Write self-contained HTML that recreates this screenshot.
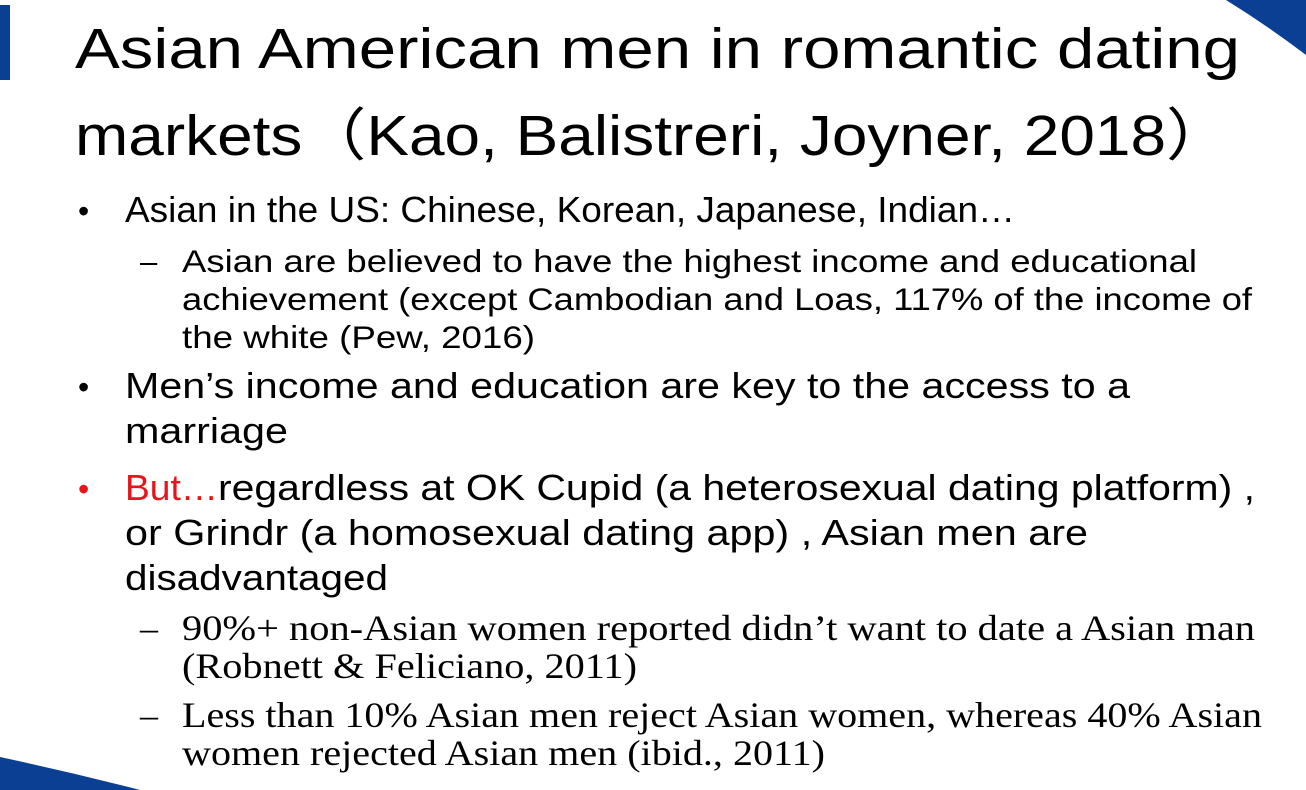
<!DOCTYPE html>
<html><head><meta charset="utf-8"><style>
html,body{margin:0;padding:0;background:#fff;width:1306px;height:790px;overflow:hidden}
svg{display:block}
.s{font-family:"Liberation Sans","Noto Sans CJK SC",sans-serif;fill:#000}
.r{font-family:"Liberation Serif",serif;fill:#000}
</style></head><body>
<svg width="1306" height="790" viewBox="0 0 1306 790">
<rect x="0" y="5" width="10" height="75" fill="#0a3f94"/>
<path d="M1226,0 Q1268,26 1306,55 L1306,0 Z" fill="#0a3f94"/>
<path d="M0,757 Q70,772 140,790 L0,790 Z" fill="#0a3f94"/>
<g>
<text class="s" x="75" y="68" font-size="57" textLength="1165" lengthAdjust="spacingAndGlyphs">Asian American men in romantic dating</text>
<text class="s" x="75" y="155" font-size="57" textLength="1155" lengthAdjust="spacingAndGlyphs">markets（Kao, Balistreri, Joyner, 2018）</text>
</g>
<g>
<text class="s" x="78" y="222" font-size="32">•</text>
<text class="s" x="125" y="222" font-size="36" textLength="890" lengthAdjust="spacingAndGlyphs">Asian in the US: Chinese, Korean, Japanese, Indian…</text>
<text class="s" x="140" y="272" font-size="31">–</text>
<text class="s" x="182" y="272" font-size="31.5" textLength="1015" lengthAdjust="spacingAndGlyphs">Asian are believed to have the highest income and educational</text>
<text class="s" x="182" y="310" font-size="31.5" textLength="1070" lengthAdjust="spacingAndGlyphs">achievement (except Cambodian and Loas, 117% of the income of</text>
<text class="s" x="182" y="348" font-size="31.5" textLength="353" lengthAdjust="spacingAndGlyphs">the white (Pew, 2016)</text>
<text class="s" x="78" y="398" font-size="32">•</text>
<text class="s" x="125" y="398" font-size="36" textLength="1005" lengthAdjust="spacingAndGlyphs">Men’s income and education are key to the access to a</text>
<text class="s" x="125" y="443" font-size="36" textLength="163" lengthAdjust="spacingAndGlyphs">marriage</text>
<text class="s" x="78" y="500" font-size="32" style="fill:#e8141b">•</text>
<text class="s" x="125" y="500" font-size="36" textLength="93" lengthAdjust="spacingAndGlyphs" style="fill:#e8141b">But…</text>
<text class="s" x="218" y="500" font-size="36" textLength="1037" lengthAdjust="spacingAndGlyphs">regardless at OK Cupid (a heterosexual dating platform) ,</text>
<text class="s" x="125" y="545" font-size="36" textLength="963" lengthAdjust="spacingAndGlyphs">or Grindr (a homosexual dating app) , Asian men are</text>
<text class="s" x="125" y="590" font-size="36" textLength="263" lengthAdjust="spacingAndGlyphs">disadvantaged</text>
<text class="r" x="140" y="640" font-size="36">–</text>
<text class="r" x="182" y="640" font-size="36" textLength="1073" lengthAdjust="spacingAndGlyphs">90%+  non-Asian women reported didn’t want to date a Asian man</text>
<text class="r" x="182" y="678" font-size="36" textLength="455" lengthAdjust="spacingAndGlyphs">(Robnett &amp; Feliciano, 2011)</text>
<text class="r" x="140" y="727" font-size="36">–</text>
<text class="r" x="182" y="727" font-size="36" textLength="1080" lengthAdjust="spacingAndGlyphs">Less than 10% Asian men reject Asian women, whereas 40% Asian</text>
<text class="r" x="182" y="765" font-size="36" textLength="643" lengthAdjust="spacingAndGlyphs">women rejected Asian men (ibid., 2011)</text>
</g>
</svg>
</body></html>
